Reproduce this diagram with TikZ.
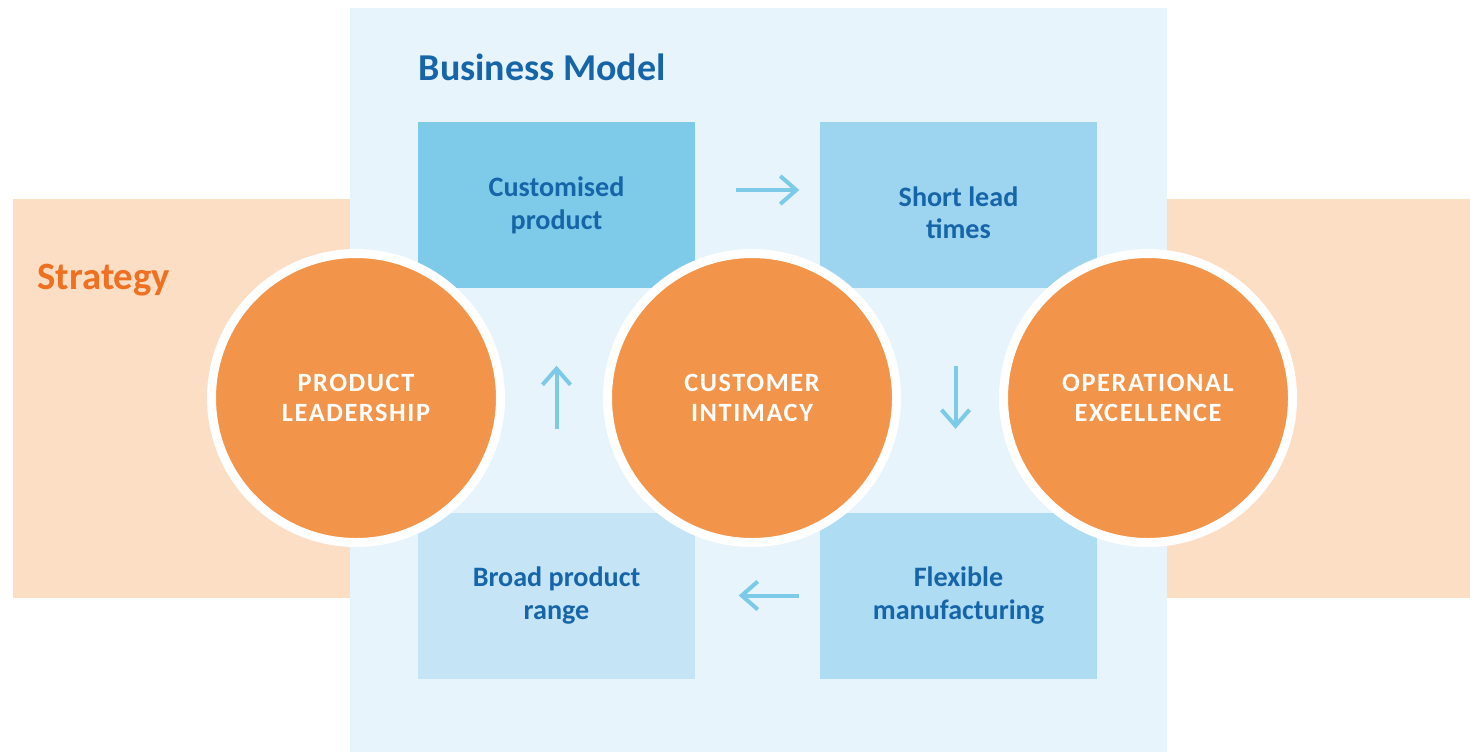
\documentclass[tikz,border=0pt]{standalone}
\usepackage{fontspec}
\setmainfont{Carlito}
\newfontfamily\discfont[LetterSpace=6]{Carlito}
\usetikzlibrary{arrows.meta}
\definecolor{stratBand}{HTML}{FCDEC5}
\definecolor{stratText}{HTML}{EE7020}
\definecolor{bmPanel}{HTML}{E7F4FC}
\definecolor{bmText}{HTML}{1565A8}
\definecolor{discOrange}{HTML}{F29449}
\definecolor{flowBlue}{HTML}{7DC9E8}
\definecolor{stageA}{HTML}{7ECAE9}
\definecolor{stageB}{HTML}{9DD4EF}
\definecolor{stageC}{HTML}{AEDCF2}
\definecolor{stageD}{HTML}{C5E5F6}

\begin{document}
\begin{tikzpicture}[font=\small,>={Straight Barb[length=1.6mm,width=2.8mm]},
  stage/.style={minimum width=2.77cm,minimum height=1.66cm,inner sep=0pt,align=center,
    text=bmText,font=\fontsize{8}{9.3}\selectfont\bfseries},
  disc/.style={circle,fill=discOrange,draw=white,line width=0.9mm,minimum size=2.89cm,
    inner sep=0pt,align=center,text=white,font=\discfont\bfseries\fontsize{7.5}{8.6}\selectfont},
  flow/.style={->,draw=flowBlue,line width=0.4mm}]
\useasboundingbox (0,0) rectangle (14.7,7.52);
% strategy band behind, business model panel on top
\fill[stratBand] (0.13,1.54) rectangle (14.7,5.53);
\fill[bmPanel] (3.5,0) rectangle (11.67,7.44);
\node[anchor=base west,inner sep=0pt,text=stratText,font=\fontsize{11}{12}\selectfont\bfseries] (strategy) at (0.37,4.63) {Strategy};
\node[anchor=base west,inner sep=0pt,text=bmText,font=\fontsize{10.8}{12}\selectfont\bfseries] (model) at (4.18,6.72) {Business Model};
% the four stages of the loop
\node[stage,fill=stageA] (custom) at (5.565,5.47) {Customised\\product};
\node[stage,fill=stageB] (lead) at (9.585,5.47) {\rule{0pt}{3.5mm}Short lead\\times};
\node[stage,fill=stageC] (manuf) at (9.585,1.565) {Flexible\\manufacturing};
\node[stage,fill=stageD] (range) at (5.565,1.565) {Broad product\\range};
\draw[flow,shorten <=4mm,shorten >=2mm] ([yshift=1.5mm]custom.east) -- ([yshift=1.5mm]lead.west);
\draw[flow,shorten <=7.7mm,shorten >=8.3mm] ([xshift=-0.3mm]lead.south) -- ([xshift=-0.3mm]manuf.north);
\draw[flow,shorten <=2mm,shorten >=4.3mm] (manuf.west) -- (range.east);
\draw[flow,shorten <=8.3mm,shorten >=7.7mm] (range.north) -- (custom.south);
% value disciplines
\node[disc] (leadership) at (3.56,3.54) {PRODUCT\\LEADERSHIP};
\node[disc] (intimacy) at (7.52,3.54) {CUSTOMER\\INTIMACY};
\node[disc] (excellence) at (11.48,3.54) {OPERATIONAL\\EXCELLENCE};
\end{tikzpicture}
\end{document}
